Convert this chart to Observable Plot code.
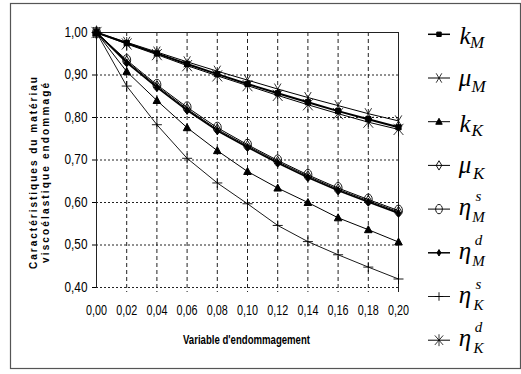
<!DOCTYPE html>
<html><head><meta charset="utf-8">
<script src="https://cdn.jsdelivr.net/npm/d3@7"></script>
<script src="https://cdn.jsdelivr.net/npm/@observablehq/plot@0.6"></script>
<style>
body{margin:0;background:#fff;}
#chart svg{display:block;}
</style>
</head><body><div id="chart"></div>
<script>
// ---- data ----
const damage = [0, 0.02, 0.04, 0.06, 0.08, 0.10, 0.12, 0.14, 0.16, 0.18, 0.20];
const kM    = [1, 0.975, 0.951, 0.926, 0.902, 0.879, 0.857, 0.836, 0.815, 0.796, 0.777];
const muM   = [1, 0.977, 0.954, 0.931, 0.909, 0.888, 0.867, 0.847, 0.828, 0.809, 0.792];
const kK    = [1, 0.908, 0.840, 0.776, 0.722, 0.673, 0.634, 0.600, 0.564, 0.536, 0.507];
const muK   = [1, 0.932, 0.874, 0.820, 0.772, 0.733, 0.696, 0.662, 0.631, 0.604, 0.578];
const etaMs = [1, 0.935, 0.877, 0.824, 0.776, 0.736, 0.699, 0.665, 0.634, 0.607, 0.581];
const etaMd = [1, 0.929, 0.871, 0.817, 0.769, 0.730, 0.693, 0.659, 0.628, 0.601, 0.575];
const etaKs = [1, 0.874, 0.783, 0.704, 0.646, 0.597, 0.546, 0.508, 0.477, 0.448, 0.420];
const etaKd = [1, 0.973, 0.948, 0.922, 0.898, 0.875, 0.852, 0.830, 0.809, 0.789, 0.772];

const seriesValues = [kM, muM, kK, muK, etaMs, etaMd, etaKs, etaKd];
const seriesKeys = ["kM", "muM", "kK", "muK", "etaMs", "etaMd", "etaKs", "etaKd"];
const legendBase = ["k", "μ", "k", "μ", "η", "η", "η", "η"];
const legendSup  = ["", "", "", "", "s", "d", "s", "d"];
const legendSub  = ["M", "M", "K", "K", "M", "M", "K", "K"];

const xTicks = [0, 0.02, 0.04, 0.06, 0.08, 0.10, 0.12, 0.14, 0.16, 0.18, 0.20];
const yTicks = [0.4, 0.5, 0.6, 0.7, 0.8, 0.9, 1.0];
const xTitle = "Variable d'endommagement";
const yTitle = ["Caractéristiques du matériau", "viscoélastique endommagé"];

// ---- custom symbols ----
const K = 0.5523;
const tallEllipse = {draw(c, size) { const r = Math.sqrt(size / Math.PI), rx = r * 0.72, ry = r;
  c.moveTo(rx, 0); c.bezierCurveTo(rx, ry*K, rx*K, ry, 0, ry); c.bezierCurveTo(-rx*K, ry, -rx, ry*K, -rx, 0);
  c.bezierCurveTo(-rx, -ry*K, -rx*K, -ry, 0, -ry); c.bezierCurveTo(rx*K, -ry, rx, -ry*K, rx, 0); c.closePath(); }};
const tallDiamond = {draw(c, size) { const r = Math.sqrt(size / Math.PI), rx = r * 0.6, ry = r;
  c.moveTo(0, -ry); c.lineTo(rx, 0); c.lineTo(0, ry); c.lineTo(-rx, 0); c.closePath(); }};
const squareS = {draw(c, size) { const r = Math.sqrt(size / Math.PI); c.rect(-r, -r, 2*r, 2*r); }};
const triS = {draw(c, size) { const r = Math.sqrt(size / Math.PI); c.moveTo(0, -r); c.lineTo(r*0.95, r*0.75); c.lineTo(-r*0.95, r*0.75); c.closePath(); }};
const timesS = {draw(c, size) { const r = Math.sqrt(size / Math.PI); c.moveTo(-r*0.6, -r); c.lineTo(r*0.6, r); c.moveTo(r*0.6, -r); c.lineTo(-r*0.6, r); }};
const plusS = {draw(c, size) { const r = Math.sqrt(size / Math.PI); c.moveTo(-r, 0); c.lineTo(r, 0); c.moveTo(0, -r); c.lineTo(0, r); }};
const starS = {draw(c, size) { const r = Math.sqrt(size / Math.PI);
  c.moveTo(0, -r); c.lineTo(0, r); c.moveTo(-r*0.7, -r*0.8); c.lineTo(r*0.7, r*0.8); c.moveTo(r*0.7, -r*0.8); c.lineTo(-r*0.7, r*0.8); }};

const styles = {
  kM:    {symbol: squareS,     r: 2.6, fill: "#000", stroke: "#000", lw: 2.0, mw: 1},
  muM:   {symbol: timesS,      r: 5.5, fill: "none", stroke: "#000", lw: 1.0, mw: 0.8},
  kK:    {symbol: triS,        r: 4.0, fill: "#000", stroke: "#000", lw: 1.0, mw: 1},
  muK:   {symbol: tallDiamond, r: 5.5, fill: "none", stroke: "#000", lw: 1.0, mw: 0.9},
  etaMs: {symbol: tallEllipse, r: 5.5, fill: "none", stroke: "#000", lw: 1.0, mw: 0.9},
  etaMd: {symbol: tallDiamond, r: 3.8, fill: "#000", stroke: "#000", lw: 1.6, mw: 1},
  etaKs: {symbol: plusS,       r: 5.0, fill: "none", stroke: "#000", lw: 0.9, mw: 0.9},
  etaKd: {symbol: starS,       r: 7.0, fill: "none", stroke: "#000", lw: 1.0, mw: 0.8}
};

const rows = [];
seriesKeys.forEach((k, si) => damage.forEach((d, i) => rows.push({series: k, x: d, y: seriesValues[si][i]})));

const fmt = d => d.toFixed(2).replace(".", ",");
const marks = [
  Plot.ruleY(yTicks.filter(v => v < 1), {stroke: "#222", strokeWidth: 1, strokeDasharray: "2,2"}),
  Plot.ruleX(xTicks.filter(v => v > 0 && v < 0.2), {stroke: "#222", strokeWidth: 1, strokeDasharray: "4,3", insetBottom: -5}),
  Plot.ruleX([0.2], {stroke: "#222", strokeWidth: 1, insetBottom: -5}),
  Plot.ruleY([1], {stroke: "#222", strokeWidth: 1}),
  Plot.ruleX([0], {stroke: "#222", strokeWidth: 1})
];
seriesKeys.forEach(k => {
  const s = styles[k];
  const data = rows.filter(r => r.series === k);
  marks.push(Plot.line(data, {x: "x", y: "y", stroke: "#000", strokeWidth: s.lw}));
});
seriesKeys.forEach(k => {
  const s = styles[k];
  const data = rows.filter(r => r.series === k);
  marks.push(Plot.dot(data, {x: "x", y: "y", symbol: s.symbol, r: s.r, fill: s.fill, stroke: s.stroke, strokeWidth: s.mw}));
});

const svgEl = Plot.plot({
  width: 521, height: 374,
  marginLeft: 96, marginRight: 123, marginTop: 32, marginBottom: 87,
  style: {fontFamily: "'Liberation Sans', Arial, sans-serif", fontSize: "14px", color: "#000", background: "#fff", overflow: "visible"},
  x: {domain: [0, 0.2], ticks: xTicks, tickFormat: fmt, tickSize: 0, tickPadding: 18, label: null},
  y: {domain: [0.4, 1], ticks: yTicks, tickFormat: fmt, tickSize: 4, tickPadding: 5, label: null},
  marks
});
document.getElementById("chart").appendChild(svgEl);

const svg = d3.select(svgEl);
// condense tick labels (narrow face look)
svg.selectAll("g[aria-label^='x-axis'] text").attr("textLength", 21).attr("lengthAdjust", "spacingAndGlyphs");
svg.selectAll("g[aria-label^='y-axis'] text").attr("textLength", 23).attr("lengthAdjust", "spacingAndGlyphs");

// outer frame
svg.append("rect").attr("x", 10.5).attr("y", 3.5).attr("width", 510).attr("height", 365)
  .attr("fill", "none").attr("stroke", "#555").attr("stroke-width", 1.2);

// x title
svg.append("text").attr("x", 246.5).attr("y", 344).attr("text-anchor", "middle")
  .attr("font-family", "'Liberation Sans', Arial, sans-serif")
  .attr("font-weight", "bold").attr("font-size", 12.5).attr("textLength", 127).attr("lengthAdjust", "spacingAndGlyphs")
  .text(xTitle);

// y title (two lines, rotated)
const yLens = [192, 180];
const yBase = [37, 49];
yTitle.forEach((t, i) => {
  svg.append("text").attr("transform", `translate(${yBase[i]},173) rotate(-90)`).attr("text-anchor", "middle")
    .attr("font-family", "'Liberation Sans', Arial, sans-serif").attr("font-weight", "bold").attr("font-size", 10)
    .attr("textLength", yLens[i]).attr("lengthAdjust", "spacing")
    .text(t);
});

// legend
const legendY0 = 34.3, legendDy = 43.7;
const mathFont = "'Liberation Serif', 'DejaVu Serif', serif";
seriesKeys.forEach((k, i) => {
  const s = styles[k];
  const y = legendY0 + i * legendDy;
  const g = svg.append("g");
  g.append("line").attr("x1", 428).attr("x2", 450).attr("y1", y).attr("y2", y)
    .attr("stroke", "#000").attr("stroke-width", Math.min(s.lw, 1.5));
  g.append("path").attr("transform", `translate(439,${y})`)
    .attr("d", d3.symbol(s.symbol, Math.PI * (s.r * 0.85) ** 2)())
    .attr("fill", s.fill).attr("stroke", s.stroke).attr("stroke-width", s.mw);
  const isEta = legendBase[i] === "η";
  const base = g.append("text").attr("x", 465).attr("y", y + (isEta ? 6 : (legendBase[i] === "k" ? 10 : 8)))
    .attr("font-family", mathFont).attr("font-style", "italic").attr("font-size", 25).text(legendBase[i]);
  const w = base.node().getComputedTextLength();
  const xs = 465 + w + 1;
  if (legendSup[i]) {
    g.append("text").attr("x", xs).attr("y", y - 8).attr("font-family", mathFont).attr("font-style", "italic")
      .attr("font-size", 15).text(legendSup[i]);
  }
  g.append("text").attr("x", xs).attr("y", y + (isEta ? 13 : 14)).attr("font-family", mathFont).attr("font-style", "italic")
    .attr("font-size", isEta ? 15 : 17).text(legendSub[i]);
});
</script>
</body></html>
